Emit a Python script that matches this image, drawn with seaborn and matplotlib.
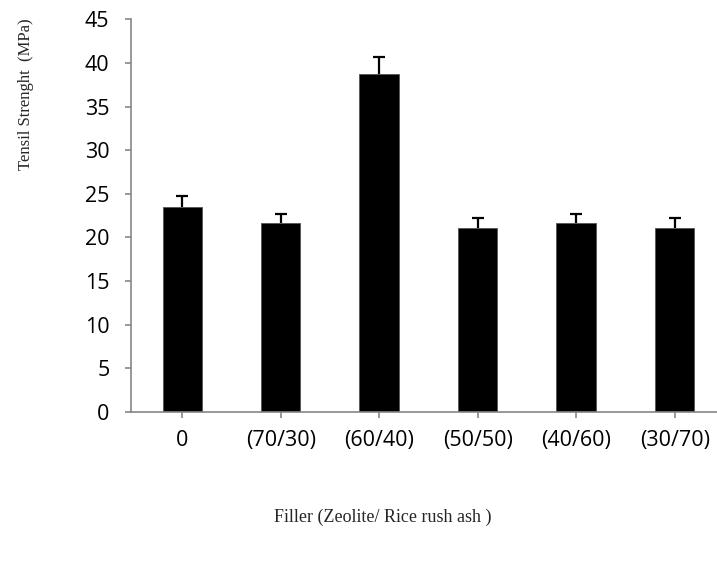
import numpy as np
import pandas as pd
import seaborn as sns
import matplotlib.pyplot as plt

fillers = ['0', '(70/30)', '(60/40)', '(50/50)', '(40/60)', '(30/70)']
strength = [23.5, 21.6, 38.7, 21.1, 21.6, 21.1]
err = [1.2, 1.1, 2.0, 1.1, 1.1, 1.1]

df = pd.DataFrame({'filler': fillers, 'strength': strength})

sns.set_style('white')
fig = plt.figure(figsize=(7.17, 5.63), dpi=100)
ax = fig.add_axes([0.1827, 0.2687, 0.8173, 0.697])

sns.barplot(data=df, x='filler', y='strength', color='black', width=0.4,
            saturation=1, edgecolor='#555555', linewidth=0.6, ax=ax)
# only the upper half of the error bar is shown
_, caps, _ = ax.errorbar(fillers, strength, yerr=[np.zeros(len(err)), err],
                         fmt='none', ecolor='black', elinewidth=1.6,
                         capsize=4.5, capthick=1.6)
caps[0].set_visible(False)

grey = '#868686'
ax.set_ylim(0, 45)
ax.set_xlim(-0.52, 5.43)
ax.set_yticks(range(0, 50, 5))
for s in ['top', 'right']:
    ax.spines[s].set_visible(False)
for s in ['left', 'bottom']:
    ax.spines[s].set_color(grey)
    ax.spines[s].set_linewidth(1.2)

ax.tick_params(axis='both', direction='out', length=4.5, width=1.2, color=grey,
               labelcolor='black')
ax.tick_params(axis='y', pad=11, left=True)
ax.tick_params(axis='x', pad=9, bottom=True)
for lab in ax.get_xticklabels() + ax.get_yticklabels():
    lab.set_fontfamily('Open Sans')
    lab.set_fontsize(15.5)

ax.set_ylabel('Tensil Strenght  (MPa)', family='Liberation Serif', fontsize=12)
ax.yaxis.set_label_coords(-0.165, 0.81)
ax.set_xlabel('Filler (Zeolite/ Rice rush ash )', family='Liberation Serif',
              fontsize=13)
ax.xaxis.set_label_coords(0.43, -0.248)

fig.savefig('out.png', dpi=100)
